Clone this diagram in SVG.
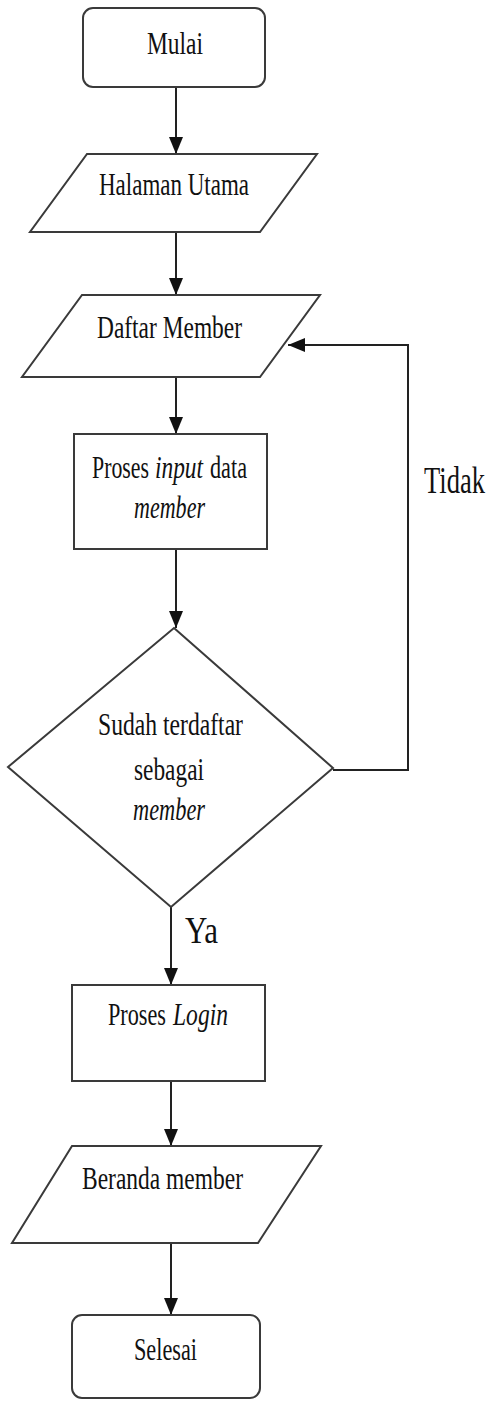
<svg xmlns="http://www.w3.org/2000/svg" width="491" height="1401" viewBox="0 0 491 1401">
<style>
.shape{fill:#fff;stroke:#3a3a3a;stroke-width:2}
.conn{fill:none;stroke:#222;stroke-width:2}
text{font-family:"Liberation Serif","Times New Roman",serif;fill:#111;font-size:23px}
.it{font-style:italic}
.lbl{font-size:27px}
</style>
<defs>
<marker id="arr" markerUnits="userSpaceOnUse" markerWidth="18" markerHeight="14" refX="17" refY="7" orient="auto">
<path d="M0,0 L17,7 L0,14 Z" fill="#111"/>
</marker>
</defs>
<rect width="491" height="1401" fill="#fff"/>
<g id="connectors">
<line class="conn" x1="176" y1="87" x2="176" y2="154" marker-end="url(#arr)"/>
<line class="conn" x1="176" y1="232" x2="176" y2="295" marker-end="url(#arr)"/>
<line class="conn" x1="176" y1="377" x2="176" y2="434" marker-end="url(#arr)"/>
<line class="conn" x1="176" y1="549" x2="176" y2="628" marker-end="url(#arr)"/>
<line class="conn" x1="171" y1="907" x2="171" y2="985" marker-end="url(#arr)"/>
<line class="conn" x1="171" y1="1081" x2="171" y2="1146" marker-end="url(#arr)"/>
<line class="conn" x1="171" y1="1243" x2="171" y2="1315" marker-end="url(#arr)"/>
<polyline class="conn" points="333,770 408,770 408,345 288,345" marker-end="url(#arr)"/>
<text class="lbl" transform="translate(185,943) scale(1,1.4)" textLength="33" lengthAdjust="spacingAndGlyphs">Ya</text>
<text class="lbl" transform="translate(424,493) scale(1,1.4)" textLength="61" lengthAdjust="spacingAndGlyphs">Tidak</text>
</g>
<g id="mulai">
<rect class="shape" x="83" y="8" width="182" height="79" rx="10"/>
<text transform="translate(147,54) scale(1,1.35)" textLength="56" lengthAdjust="spacingAndGlyphs">Mulai</text>
</g>
<g id="halaman-utama">
<polygon class="shape" points="87,154 317,154 260,232 30,232"/>
<text transform="translate(99,195) scale(1,1.35)" textLength="150" lengthAdjust="spacingAndGlyphs">Halaman Utama</text>
</g>
<g id="daftar-member">
<polygon class="shape" points="82,295 320,295 260,377 22,377"/>
<text transform="translate(97,338) scale(1,1.35)" textLength="145" lengthAdjust="spacingAndGlyphs">Daftar Member</text>
</g>
<g id="proses-input">
<rect class="shape" x="74" y="434" width="193" height="115"/>
<text transform="translate(92,478) scale(1,1.35)" textLength="57" lengthAdjust="spacingAndGlyphs">Proses</text>
<text class="it" transform="translate(155,478) scale(1,1.35)" textLength="48" lengthAdjust="spacingAndGlyphs">input</text>
<text transform="translate(210,478) scale(1,1.35)" textLength="37" lengthAdjust="spacingAndGlyphs">data</text>
<text class="it" transform="translate(134,518) scale(1,1.35)" textLength="71" lengthAdjust="spacingAndGlyphs">member</text>
</g>
<g id="cek-member">
<polygon class="shape" points="174,628 333,768 171,907 8,767"/>
<text transform="translate(98,735) scale(1,1.35)" textLength="145" lengthAdjust="spacingAndGlyphs">Sudah terdaftar</text>
<text transform="translate(134,780) scale(1,1.35)" textLength="70" lengthAdjust="spacingAndGlyphs">sebagai</text>
<text class="it" transform="translate(133,820) scale(1,1.35)" textLength="72" lengthAdjust="spacingAndGlyphs">member</text>
</g>
<g id="proses-login">
<rect class="shape" x="72" y="985" width="193" height="96"/>
<text transform="translate(108,1025) scale(1,1.35)" textLength="58" lengthAdjust="spacingAndGlyphs">Proses</text>
<text class="it" transform="translate(173,1025) scale(1,1.35)" textLength="55" lengthAdjust="spacingAndGlyphs">Login</text>
</g>
<g id="beranda-member">
<polygon class="shape" points="72,1146 321,1146 258,1243 12,1243"/>
<text transform="translate(82,1189) scale(1,1.35)" textLength="161" lengthAdjust="spacingAndGlyphs">Beranda member</text>
</g>
<g id="selesai">
<rect class="shape" x="72" y="1315" width="188" height="83" rx="10"/>
<text transform="translate(134,1360) scale(1,1.35)" textLength="63" lengthAdjust="spacingAndGlyphs">Selesai</text>
</g>
</svg>
